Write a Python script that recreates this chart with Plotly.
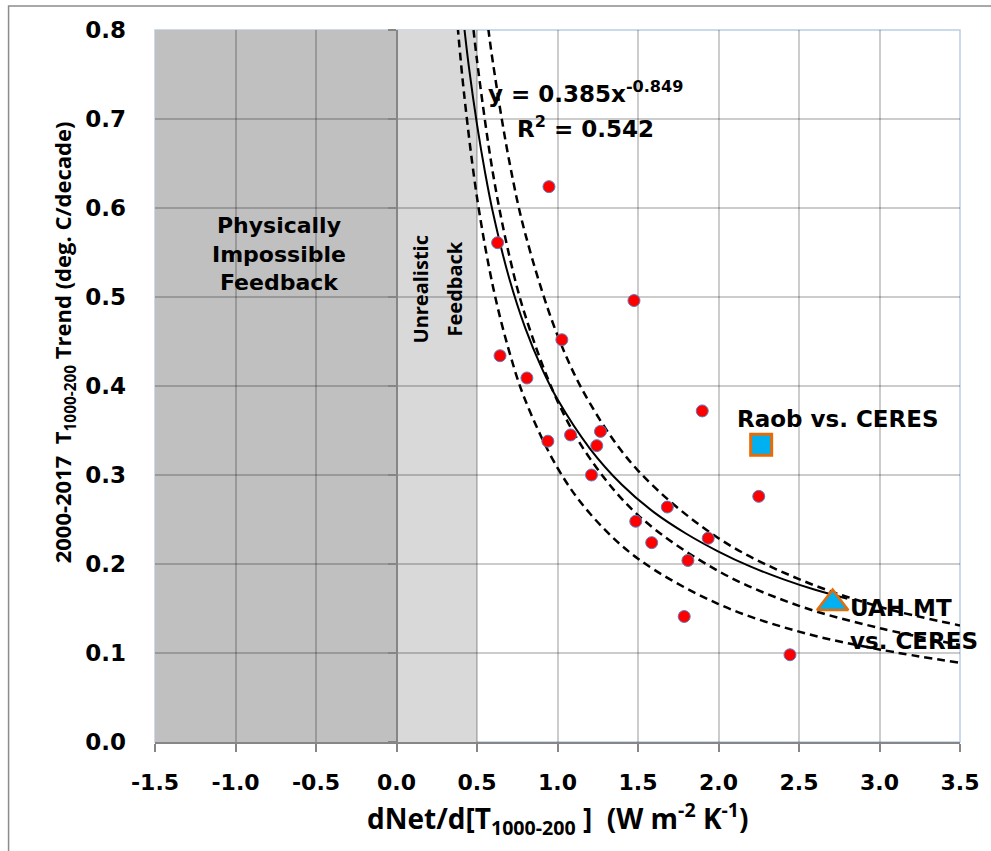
import plotly.graph_objects as go

# ---------------- data ----------------
# Red dots (climate models)
model_x = [0.947, 0.628, 1.475, 1.027, 0.643, 0.810, 1.899, 1.267, 1.081, 1.244,
           0.940, 1.211, 2.250, 1.682, 1.486, 1.936, 1.585, 1.810, 1.787, 2.444]
model_y = [0.624, 0.561, 0.496, 0.452, 0.434, 0.409, 0.372, 0.349, 0.345, 0.333,
           0.338, 0.300, 0.276, 0.264, 0.248, 0.229, 0.224, 0.204, 0.141, 0.098]

# Observations
raob_x = [2.265]
raob_y = [0.334]
uah_x = [2.709]
uah_y = [0.156]

# Power-law trendline (y = 0.385x^-0.849)
fit_x = [0.42, 0.45, 0.5, 0.55, 0.6, 0.7, 0.8, 0.9, 1.0, 1.2, 1.4, 1.6, 1.8,
         2.0, 2.2, 2.4, 2.6, 2.8]
fit_y = [0.804, 0.758, 0.694, 0.640, 0.594, 0.521, 0.465, 0.421, 0.385, 0.330,
         0.289, 0.258, 0.234, 0.214, 0.197, 0.183, 0.171, 0.161]

# Dashed curves, points
low_x = [0.38, 0.42, 0.5, 0.6, 0.7, 0.8, 1.0, 1.2, 1.5, 2.0, 2.5, 3.0, 3.5]
low_y = [0.804, 0.728, 0.612, 0.511, 0.439, 0.384, 0.308, 0.257, 0.206, 0.155,
         0.124, 0.104, 0.089]
mid_x = [0.47, 0.5, 0.6, 0.7, 0.8, 1.0, 1.2, 1.5, 2.0, 2.5, 3.0, 3.5]
mid_y = [0.815, 0.766, 0.638, 0.547, 0.479, 0.383, 0.319, 0.255, 0.192, 0.153,
         0.128, 0.109]
high_x = [0.56, 0.6, 0.7, 0.8, 1.0, 1.2, 1.5, 2.0, 2.5, 3.0, 3.5]
high_y = [0.816, 0.762, 0.653, 0.571, 0.457, 0.381, 0.305, 0.229, 0.183, 0.152,
          0.131]

# Axes
x_tick_vals = [-1.5, -1.0, -0.5, 0.0, 0.5, 1.0, 1.5, 2.0, 2.5, 3.0, 3.5]
x_tick_text = ["-1.5", "-1.0", "-0.5", "0.0", "0.5", "1.0", "1.5", "2.0", "2.5", "3.0", "3.5"]
y_tick_vals = [0.0, 0.1, 0.2, 0.3, 0.4, 0.5, 0.6, 0.7, 0.8]
y_tick_text = ["0.0", "0.1", "0.2", "0.3", "0.4", "0.5", "0.6", "0.7", "0.8"]

impossible_region = [-1.5, 0.0]
unrealistic_region = [0.0, 0.5]

# ---------------- figure ----------------
AXIS_GRAY = "#868686"
DASH = "8px,5px"

fig = go.Figure()

for cx, cy in [(low_x, low_y), (mid_x, mid_y), (high_x, high_y)]:
    fig.add_trace(go.Scatter(x=cx, y=cy, mode="lines", line_shape="spline",
                             line=dict(color="black", width=2.5, dash=DASH),
                             hoverinfo="skip"))

fig.add_trace(go.Scatter(x=fit_x, y=fit_y, mode="lines", line_shape="spline",
                         line=dict(color="black", width=2), hoverinfo="skip"))

fig.add_trace(go.Scatter(x=model_x, y=model_y, mode="markers",
                         marker=dict(symbol="circle", size=12, color="#ff0000",
                                     line=dict(color="#5b7fbf", width=1))))

fig.add_trace(go.Scatter(x=raob_x, y=raob_y, mode="markers",
                         marker=dict(symbol="square", size=21, color="#00b0f0",
                                     line=dict(color="#e46c0a", width=3))))

fig.add_trace(go.Scatter(x=uah_x, y=uah_y, mode="markers",
                         marker=dict(symbol="triangle-up", size=27, color="#00b0f0",
                                     line=dict(color="#e46c0a", width=2.5))))

# invisible trace to carry the secondary (x = 0) vertical axis
fig.add_trace(go.Scatter(x=[None], y=[None], yaxis="y2", showlegend=False, hoverinfo="skip"))

shapes = [
    dict(type="rect", xref="x", yref="y", x0=impossible_region[0], x1=impossible_region[1],
         y0=0, y1=0.8, fillcolor="#c0c0c0", line=dict(width=0), layer="below"),
    dict(type="rect", xref="x", yref="y", x0=unrealistic_region[0], x1=unrealistic_region[1],
         y0=0, y1=0.8, fillcolor="#d9d9d9", line=dict(width=0), layer="below"),
    # plot-area border
    dict(type="rect", xref="paper", yref="paper", x0=0, x1=1, y0=0, y1=1,
         line=dict(color="#b9cde5", width=1.5), layer="below"),
    # outer chart frame
    dict(type="rect", xref="paper", yref="paper", x0=-0.1819, x1=1.06, y0=-0.17, y1=1.0337,
         line=dict(color="#8c8c8c", width=1.5), layer="below"),
]

TXT = dict(family="DejaVu Sans", size=23, color="black", weight="bold")

annotations = [
    dict(x=-0.73, y=0.548, xref="x", yref="y", text="Physically<br>Impossible<br>Feedback",
         showarrow=False, align="center",
         font=dict(family="DejaVu Sans", size=22, color="black", weight="bold")),
    dict(x=0.149, y=0.509, xref="x", yref="y", text="Unrealistic", textangle=-90,
         showarrow=False, font=dict(family="Open Sans", size=20, color="black", weight="bold")),
    dict(x=0.366, y=0.509, xref="x", yref="y", text="Feedback", textangle=-90,
         showarrow=False, font=dict(family="Open Sans", size=20, color="black", weight="bold")),
    dict(x=0.558, y=0.730, xref="x", yref="y", xanchor="left", yanchor="middle",
         text="y = 0.385x<sup>-0.849</sup>", showarrow=False, font=TXT),
    dict(x=0.738, y=0.691, xref="x", yref="y", xanchor="left", yanchor="middle",
         text="R<sup>2</sup> = 0.542", showarrow=False, font=TXT),
    dict(x=2.102, y=0.3625, xref="x", yref="y", xanchor="left", yanchor="middle",
         text="Raob vs. CERES", showarrow=False, font=TXT),
    dict(x=2.802, y=0.151, xref="x", yref="y", xanchor="left", yanchor="middle",
         text="UAH MT", showarrow=False, font=TXT),
    dict(x=2.802, y=0.113, xref="x", yref="y", xanchor="left", yanchor="middle",
         text="vs. CERES", showarrow=False, font=TXT),
    # axis titles
    dict(x=0.5, y=-0.107, xref="paper", yref="paper", xanchor="center", yanchor="middle",
         text="dNet/d[T<sub>1000-200</sub>\u00a0]\u00a0\u00a0(W m<sup>-2</sup> K<sup>-1</sup>)",
         showarrow=False, font=dict(family="Open Sans", size=28, color="black", weight="bold")),
    dict(x=-0.1126, y=0.5618, xref="paper", yref="paper", xanchor="center", yanchor="middle",
         textangle=-90,
         text="2000-2017\u00a0\u00a0T<sub>1000-200</sub> Trend (deg. C/decade)",
         showarrow=False, font=dict(family="Open Sans", size=22, color="black", weight="bold")),
]

fig.update_layout(
    width=991, height=851,
    margin=dict(l=155, r=28, t=30, b=109),
    plot_bgcolor="white", paper_bgcolor="white",
    showlegend=False,
    shapes=shapes,
    annotations=annotations,
    xaxis=dict(range=[-1.5, 3.5], tickvals=x_tick_vals, ticktext=x_tick_text,
               showgrid=True, gridcolor="rgba(0,0,0,0.2)", gridwidth=2,
               zeroline=False, showline=True, linecolor=AXIS_GRAY, linewidth=2,
               ticks="outside", ticklen=8, tickwidth=2, tickcolor=AXIS_GRAY,
               ticklabelstandoff=12,
               tickfont=dict(family="DejaVu Sans", size=22, color="black", weight="bold")),
    yaxis=dict(range=[0, 0.8], tickvals=y_tick_vals, ticktext=y_tick_text,
               showgrid=True, gridcolor="rgba(0,0,0,0.2)", gridwidth=2,
               zeroline=False, showline=False, ticks="",
               ticklabelstandoff=28,
               tickfont=dict(family="DejaVu Sans", size=23, color="black", weight="bold")),
    yaxis2=dict(range=[0, 0.8], tickvals=y_tick_vals, overlaying="y", anchor="free",
                position=0.3, side="left", showgrid=False, zeroline=False,
                showline=True, linecolor=AXIS_GRAY, linewidth=2,
                ticks="outside", ticklen=8, tickwidth=2, tickcolor=AXIS_GRAY,
                showticklabels=False),
)

fig.write_html("out.html", config={"displayModeBar": False},
               post_script="document.body.style.margin='0';")
